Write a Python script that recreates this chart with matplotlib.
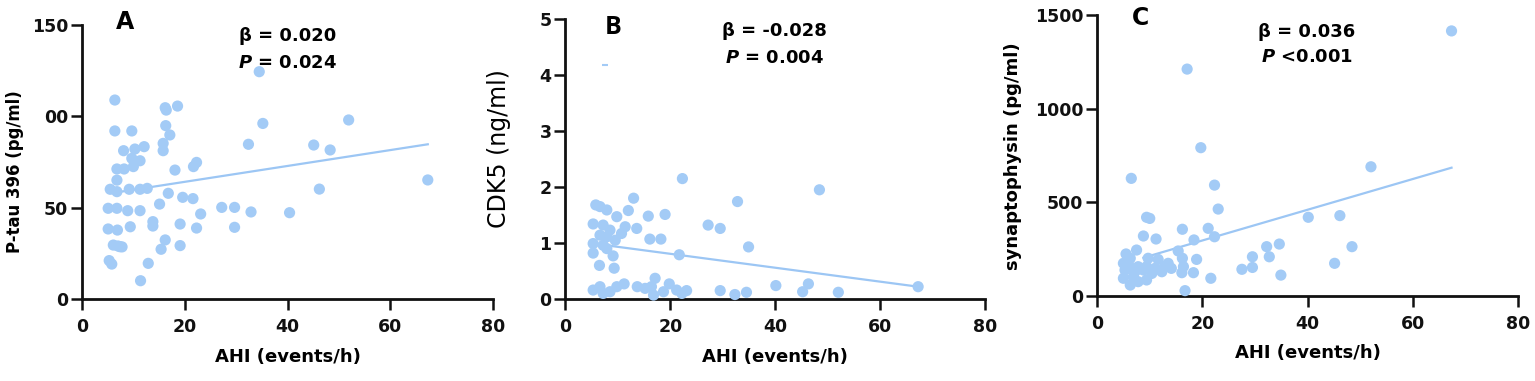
import matplotlib
matplotlib.use("Agg")
import matplotlib.pyplot as plt

plt.rcParams['font.family'] = ['DejaVu Sans']

# Panel A: P-tau 396 vs AHI
ahi_a = [6.4, 6.4, 9.7, 8.1, 10.3, 12.1, 9.7, 11.3, 6.8, 8.2, 10.0, 6.8, 5.5, 6.8,
         9.2, 11.3, 12.7, 5.1, 6.8, 8.9, 11.3, 5.1, 6.9, 9.4, 6.1, 7.4, 5.3, 5.8,
         11.4, 12.9, 13.8, 13.8, 15.1, 15.4, 16.2, 16.2, 16.4, 18.6, 16.3, 17.1,
         15.8, 15.8, 16.8, 18.1, 19.1, 19.1, 19.6, 21.6, 21.7, 22.3, 22.3, 23.1,
         27.2, 29.7, 29.7, 32.4, 32.9, 34.5, 35.2, 40.4, 45.1, 46.2, 48.3, 51.9,
         67.3, 7.0, 7.8]
ptau = [108.8, 91.9, 91.9, 81.1, 82.0, 83.3, 76.9, 75.6, 71.1, 71.1, 72.4, 65.0,
        60.0, 58.7, 60.0, 60.0, 60.5, 49.6, 49.6, 48.3, 48.3, 38.3, 37.7, 39.5,
        29.5, 28.6, 21.0, 19.1, 10.0, 19.5, 42.3, 39.9, 51.9, 27.2, 32.3, 104.6,
        103.3, 105.5, 94.8, 89.7, 85.1, 81.1, 57.8, 70.5, 41.0, 29.2, 55.6, 54.9,
        72.4, 74.7, 38.8, 46.5, 50.1, 50.1, 39.2, 84.6, 47.6, 124.3, 96.0, 47.2,
        84.2, 60.1, 81.5, 97.9, 65.1, 29.0, 28.5]
fit_a_x = [6.7, 67.3]
fit_a_y = [58.3, 84.6]

# Panel B: CDK5 vs AHI
ahi_b = [22.3, 48.4, 13.0, 32.8, 5.8, 6.6, 7.9, 12.0, 15.8, 19.0, 9.8, 5.3, 7.2,
         11.4, 13.6, 27.2, 29.5, 8.5, 10.7, 6.6, 7.9, 16.1, 18.2, 9.5, 5.3, 7.2,
         34.9, 5.3, 9.1, 7.9, 21.7, 6.5, 9.3, 5.3, 6.6, 7.2, 8.5, 9.8, 11.2, 13.7,
         15.2, 16.4, 17.1, 16.8, 18.7, 19.8, 21.2, 23.1, 22.2, 29.5, 32.3, 34.5,
         40.1, 45.2, 46.3, 52.0, 67.2]
cdk5 = [2.15, 1.95, 1.80, 1.74, 1.68, 1.65, 1.59, 1.58, 1.48, 1.51, 1.47, 1.34,
        1.32, 1.29, 1.26, 1.32, 1.26, 1.23, 1.17, 1.14, 1.11, 1.07, 1.07, 1.05,
        0.99, 0.96, 0.93, 0.82, 0.77, 0.90, 0.79, 0.60, 0.55, 0.16, 0.22, 0.10,
        0.13, 0.22, 0.27, 0.22, 0.19, 0.22, 0.37, 0.07, 0.13, 0.27, 0.16, 0.15,
        0.10, 0.15, 0.08, 0.12, 0.24, 0.13, 0.27, 0.12, 0.22]
outlier_b = (7.5, 4.17)
fit_b_x = [8.5, 67.2]
fit_b_y = [0.95, 0.22]

# Panel C: synaptophysin vs AHI
ahi_c = [67.3, 17.1, 19.7, 6.5, 52.0, 22.3, 23.0, 9.4, 10.0, 40.1, 46.1, 16.2,
         21.1, 8.8, 11.2, 18.4, 22.3, 32.2, 34.6, 48.4, 7.5, 15.4, 5.5, 29.5, 32.7,
         18.9, 6.3, 9.7, 11.6, 13.5, 16.2, 45.1, 5.0, 6.0, 7.8, 9.4, 11.0, 12.8,
         14.1, 16.4, 27.5, 29.5, 5.3, 7.2, 8.8, 10.4, 12.3, 16.1, 18.3, 5.0, 6.9,
         9.4, 21.6, 34.9, 6.3, 16.7, 7.8]
syn = [1415, 1211, 791, 627, 689, 591, 463, 419, 413, 419, 428, 355, 360, 319,
       303, 298, 315, 262, 276, 262, 244, 239, 223, 208, 208, 194, 200, 200, 194,
       173, 200, 173, 173, 164, 155, 155, 146, 155, 146, 155, 141, 151, 137, 128,
       137, 119, 128, 123, 123, 93, 102, 84, 93, 110, 57, 27, 75]
fit_c_x = [8.8, 67.3]
fit_c_y = [203, 684]

point_color = '#a3cbf6'
line_color = '#9cc6f4'

fig = plt.figure(figsize=(15.35, 3.81), dpi=100)
ax_a = fig.add_axes([0.0534, 0.2152, 0.2678, 0.720])
ax_b = fig.add_axes([0.3683, 0.2152, 0.2736, 0.735])
ax_c = fig.add_axes([0.7147, 0.2239, 0.2745, 0.7367])


def style_axis(ax, ylim, yticks, yticklabels):
    ax.set_xlim(0, 80)
    ax.set_ylim(*ylim)
    ax.set_xticks([0, 20, 40, 60, 80])
    ax.set_yticks(yticks)
    ax.set_yticklabels(yticklabels)
    for side in ('top', 'right'):
        ax.spines[side].set_visible(False)
    for side in ('left', 'bottom'):
        ax.spines[side].set_linewidth(2.0)
        ax.spines[side].set_color('#111111')
    ax.tick_params(length=8, width=1.8, labelsize=12.5, colors='#111111')
    ax.tick_params(axis='x', pad=6)
    ax.tick_params(axis='y', pad=2)
    for lab in ax.get_xticklabels() + ax.get_yticklabels():
        lab.set_fontweight('bold')
    ax.set_xlabel('AHI (events/h)', fontsize=13, fontweight='bold', labelpad=8)


def add_stats(ax, beta, pval, x, y1, y2):
    ax.text(x, y1, beta, transform=ax.transAxes, fontsize=13,
            fontweight='bold', ha='center', va='center')
    ax.text(x, y2, pval, transform=ax.transAxes, fontsize=13,
            fontweight='bold', ha='center', va='center')


# A
ax_a.scatter(ahi_a, ptau, s=65, color=point_color, edgecolors='none', clip_on=False, zorder=3)
ax_a.plot(fit_a_x, fit_a_y, color=line_color, lw=1.6, zorder=2)
style_axis(ax_a, (0, 150), [0, 50, 100, 150], ['0', '50', '00', '150'])
ax_a.set_ylabel('P-tau 396 (pg/ml)', fontsize=11.9, fontweight='bold')
ax_a.yaxis.set_label_coords(-0.141, 0.463)
ax_a.text(0.105, 1.01, 'A', transform=ax_a.transAxes, fontsize=17, fontweight='bold',
          ha='center', va='center')
add_stats(ax_a, 'β = 0.020', r'$\bfit{P}$ = 0.024', 0.501, 0.959, 0.86)

# B
ax_b.scatter(ahi_b, cdk5, s=65, color=point_color, edgecolors='none', clip_on=False, zorder=3)
ax_b.scatter([outlier_b[0]], [outlier_b[1]], s=20, marker='_', color=point_color, zorder=3)
ax_b.plot(fit_b_x, fit_b_y, color=line_color, lw=1.6, zorder=2)
style_axis(ax_b, (0, 5), [0, 1, 2, 3, 4, 5], ['0', '1', '2', '3', '4', '5'])
ax_b.set_ylabel('CDK5 (ng/ml)', fontsize=17)
ax_b.yaxis.set_label_coords(-0.129, 0.536)
ax_b.text(0.114, 0.971, 'B', transform=ax_b.transAxes, fontsize=18, fontweight='bold',
          ha='center', va='center', family=['Open Sans', 'DejaVu Sans'])
add_stats(ax_b, 'β = -0.028', r'$\bfit{P}$ = 0.004', 0.499, 0.957, 0.861)

# C
ax_c.scatter(ahi_c, syn, s=65, color=point_color, edgecolors='none', clip_on=False, zorder=3)
ax_c.plot(fit_c_x, fit_c_y, color=line_color, lw=1.6, zorder=2)
style_axis(ax_c, (0, 1500), [0, 500, 1000, 1500], ['0', '500', '1000', '1500'])
ax_c.set_ylabel('synaptophysin (pg/ml)', fontsize=13, fontweight='bold')
ax_c.yaxis.set_label_coords(-0.178, 0.498)
ax_c.text(0.104, 0.989, 'C', transform=ax_c.transAxes, fontsize=17, fontweight='bold',
          ha='center', va='center')
add_stats(ax_c, 'β = 0.036', r'$\bfit{P}$ <0.001', 0.498, 0.939, 0.85)

fig.savefig('out.png', dpi=100)
